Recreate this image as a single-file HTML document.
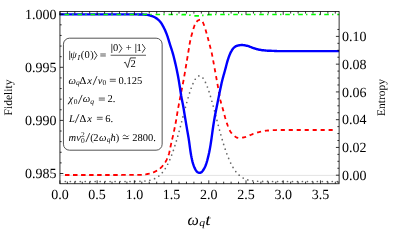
<!DOCTYPE html>
<html><head><meta charset="utf-8"><title>Fidelity and entropy vs time</title><style>
html,body{margin:0;padding:0;background:#fff;}
svg{display:block;font-family:"Liberation Serif",serif;text-rendering:geometricPrecision;will-change:transform;}
</style></head><body>
<svg width="399" height="245" viewBox="0 0 399 245">
<rect width="399" height="245" fill="#fff"/>
<path d="M59.95 175.4 H339.1" stroke="#d0d0d0" stroke-width="0.6" fill="none"/>
<g fill="#666"><circle cx="65.35" cy="181.50" r="0.85"/>
<circle cx="70.33" cy="181.50" r="0.85"/>
<circle cx="75.30" cy="181.50" r="0.85"/>
<circle cx="80.28" cy="181.50" r="0.85"/>
<circle cx="85.25" cy="181.50" r="0.85"/>
<circle cx="90.23" cy="181.50" r="0.85"/>
<circle cx="95.20" cy="181.50" r="0.85"/>
<circle cx="100.18" cy="181.50" r="0.85"/>
<circle cx="105.15" cy="181.50" r="0.85"/>
<circle cx="110.13" cy="181.50" r="0.85"/>
<circle cx="115.10" cy="181.50" r="0.85"/>
<circle cx="120.08" cy="181.50" r="0.85"/>
<circle cx="125.05" cy="181.49" r="0.85"/>
<circle cx="130.03" cy="181.48" r="0.85"/>
<circle cx="135.00" cy="181.44" r="0.85"/>
<circle cx="139.98" cy="181.32" r="0.85"/>
<circle cx="144.94" cy="180.99" r="0.85"/>
<circle cx="149.85" cy="180.23" r="0.85"/>
<circle cx="154.57" cy="178.67" r="0.85"/>
<circle cx="158.80" cy="176.08" r="0.85"/>
<circle cx="162.35" cy="172.60" r="0.85"/>
<circle cx="165.27" cy="168.57" r="0.85"/>
<circle cx="167.71" cy="164.24" r="0.85"/>
<circle cx="169.82" cy="159.72" r="0.85"/>
<circle cx="171.68" cy="155.12" r="0.85"/>
<circle cx="173.37" cy="150.44" r="0.85"/>
<circle cx="174.93" cy="145.70" r="0.85"/>
<circle cx="176.39" cy="140.95" r="0.85"/>
<circle cx="177.77" cy="136.19" r="0.85"/>
<circle cx="179.11" cy="131.36" r="0.85"/>
<circle cx="180.40" cy="126.57" r="0.85"/>
<circle cx="181.67" cy="121.75" r="0.85"/>
<circle cx="182.92" cy="116.96" r="0.85"/>
<circle cx="184.18" cy="112.14" r="0.85"/>
<circle cx="185.45" cy="107.34" r="0.85"/>
<circle cx="186.76" cy="102.52" r="0.85"/>
<circle cx="188.12" cy="97.74" r="0.85"/>
<circle cx="189.57" cy="92.97" r="0.85"/>
<circle cx="191.15" cy="88.26" r="0.85"/>
<circle cx="192.96" cy="83.65" r="0.85"/>
<circle cx="195.24" cy="79.23" r="0.85"/>
<circle cx="198.82" cy="75.94" r="0.85"/>
<circle cx="202.98" cy="78.12" r="0.85"/>
<circle cx="205.48" cy="82.41" r="0.85"/>
<circle cx="207.39" cy="87.01" r="0.85"/>
<circle cx="209.02" cy="91.69" r="0.85"/>
<circle cx="210.50" cy="96.45" r="0.85"/>
<circle cx="211.88" cy="101.23" r="0.85"/>
<circle cx="213.20" cy="106.04" r="0.85"/>
<circle cx="214.48" cy="110.84" r="0.85"/>
<circle cx="215.74" cy="115.66" r="0.85"/>
<circle cx="216.99" cy="120.45" r="0.85"/>
<circle cx="218.26" cy="125.29" r="0.85"/>
<circle cx="219.54" cy="130.07" r="0.85"/>
<circle cx="220.86" cy="134.87" r="0.85"/>
<circle cx="222.23" cy="139.66" r="0.85"/>
<circle cx="223.67" cy="144.43" r="0.85"/>
<circle cx="225.20" cy="149.17" r="0.85"/>
<circle cx="226.84" cy="153.84" r="0.85"/>
<circle cx="228.65" cy="158.47" r="0.85"/>
<circle cx="230.69" cy="163.03" r="0.85"/>
<circle cx="233.02" cy="167.41" r="0.85"/>
<circle cx="235.79" cy="171.54" r="0.85"/>
<circle cx="239.15" cy="175.19" r="0.85"/>
<circle cx="243.20" cy="178.06" r="0.85"/>
<circle cx="247.82" cy="179.89" r="0.85"/>
<circle cx="252.70" cy="180.84" r="0.85"/>
<circle cx="257.65" cy="181.25" r="0.85"/>
<circle cx="262.63" cy="181.42" r="0.85"/>
<circle cx="267.60" cy="181.47" r="0.85"/>
<circle cx="272.58" cy="181.49" r="0.85"/>
<circle cx="277.55" cy="181.50" r="0.85"/>
<circle cx="282.53" cy="181.50" r="0.85"/>
<circle cx="287.50" cy="181.50" r="0.85"/>
<circle cx="292.48" cy="181.50" r="0.85"/>
<circle cx="297.45" cy="181.50" r="0.85"/>
<circle cx="302.43" cy="181.50" r="0.85"/>
<circle cx="307.40" cy="181.50" r="0.85"/>
<circle cx="312.38" cy="181.50" r="0.85"/>
<circle cx="317.35" cy="181.50" r="0.85"/>
<circle cx="322.33" cy="181.50" r="0.85"/>
<circle cx="327.30" cy="181.50" r="0.85"/>
<circle cx="332.28" cy="181.50" r="0.85"/>
<circle cx="337.25" cy="181.50" r="0.85"/></g>
<path d="M65.0 175.0 L65.5 175.0 L66.0 175.0 L66.5 175.0 L67.0 175.0 L67.5 175.0 L68.0 175.0 L68.5 175.0 L69.0 175.0 L69.5 175.0 L70.0 175.0 L70.5 175.0 L71.0 175.0 L71.5 175.0 L72.0 175.0 L72.5 175.0 L73.0 175.0 L73.5 175.0 L74.0 175.0 L74.5 175.0 L75.0 175.0 L75.5 175.0 L76.0 175.0 L76.5 175.0 L77.0 175.0 L77.5 175.0 L78.0 175.0 L78.5 175.0 L79.0 175.0 L79.5 175.0 L80.0 175.0 L80.5 175.0 L81.0 175.0 L81.5 175.0 L82.0 175.0 L82.5 175.0 L83.0 175.0 L83.5 175.0 L84.0 175.0 L84.5 175.0 L85.0 175.0 L85.5 175.0 L86.0 175.0 L86.5 175.0 L87.0 175.0 L87.5 175.0 L88.0 175.0 L88.5 175.0 L89.0 175.0 L89.5 175.0 L90.0 175.0 L90.5 175.0 L91.0 175.0 L91.5 175.0 L92.0 175.0 L92.5 175.0 L93.0 175.0 L93.5 175.0 L94.0 175.0 L94.5 175.0 L95.0 175.0 L95.5 175.0 L96.0 175.0 L96.5 175.0 L97.0 175.0 L97.5 175.0 L98.0 175.0 L98.5 175.0 L99.0 175.0 L99.5 175.0 L100.0 175.0 L100.5 175.0 L101.0 175.0 L101.5 175.0 L102.0 175.0 L102.5 175.0 L103.0 175.0 L103.5 175.0 L104.0 175.0 L104.5 175.0 L105.0 175.0 L105.5 175.0 L106.0 175.0 L106.5 175.0 L107.0 175.0 L107.5 175.0 L108.0 175.0 L108.5 175.0 L109.0 175.0 L109.5 175.0 L110.0 175.0 L110.5 175.0 L111.0 175.0 L111.5 175.0 L112.0 175.0 L112.5 175.0 L113.0 175.0 L113.5 175.0 L114.0 175.0 L114.5 175.0 L115.0 175.0 L115.5 175.0 L116.0 175.0 L116.5 175.0 L117.0 175.0 L117.5 175.0 L118.0 175.0 L118.5 175.0 L119.0 175.0 L119.5 175.0 L120.0 175.0 L120.5 175.0 L121.0 175.0 L121.5 175.0 L122.0 174.9 L122.5 174.9 L123.0 174.9 L123.5 174.9 L124.0 174.9 L124.5 174.9 L125.0 174.9 L125.5 174.9 L126.0 174.9 L126.5 174.9 L127.0 174.9 L127.5 174.9 L128.0 174.9 L128.5 174.9 L129.0 174.9 L129.5 174.9 L130.0 174.9 L130.5 174.9 L131.0 174.9 L131.5 174.9 L132.0 174.9 L132.5 174.9 L133.0 174.9 L133.5 174.9 L134.0 174.9 L134.5 174.9 L135.0 174.9 L135.5 174.9 L136.0 174.9 L136.5 174.9 L137.0 174.9 L137.5 174.9 L138.0 174.9 L138.5 174.9 L139.0 174.9 L139.5 174.9 L140.0 174.9 L140.5 174.9 L141.0 174.9 L141.5 174.8 L142.0 174.8 L142.5 174.8 L143.0 174.7 L143.5 174.7 L144.0 174.6 L144.5 174.5 L145.0 174.4 L145.5 174.4 L146.0 174.3 L146.5 174.2 L147.0 174.1 L147.5 174.0 L148.0 173.9 L148.5 173.8 L149.0 173.7 L149.5 173.6 L150.0 173.5 L150.5 173.3 L151.0 173.2 L151.5 173.0 L152.0 172.9 L152.5 172.7 L153.0 172.5 L153.5 172.3 L154.0 172.1 L154.5 171.9 L155.0 171.6 L155.5 171.4 L156.0 171.1 L156.5 170.9 L157.0 170.6 L157.5 170.3 L158.0 170.0 L158.5 169.7 L159.0 169.3 L159.5 169.0 L160.0 168.5 L160.5 168.1 L161.0 167.6 L161.5 167.1 L162.0 166.6 L162.5 166.0 L163.0 165.4 L163.5 164.8 L164.0 164.1 L164.5 163.4 L165.0 162.7 L165.5 161.9 L166.0 161.0 L166.5 160.1 L167.0 159.0 L167.5 157.9 L168.0 156.6 L168.5 155.3 L169.0 153.7 L169.5 151.6 L170.0 149.3 L170.5 146.8 L171.0 144.4 L171.5 142.1 L172.0 140.0 L172.5 137.9 L173.0 135.7 L173.5 133.5 L174.0 131.1 L174.5 128.7 L175.0 126.2 L175.5 123.7 L176.0 121.0 L176.5 118.1 L177.0 115.0 L177.5 111.9 L178.0 109.0 L178.5 106.3 L179.0 103.6 L179.5 101.1 L180.0 98.5 L180.5 95.9 L181.0 93.4 L181.5 90.9 L182.0 88.4 L182.5 85.8 L183.0 83.2 L183.5 80.5 L184.0 77.8 L184.5 74.9 L185.0 71.9 L185.5 69.0 L186.0 66.0 L186.5 63.0 L187.0 60.0 L187.5 57.0 L188.0 54.0 L188.5 51.0 L189.0 47.9 L189.5 44.7 L190.0 42.0 L190.5 39.7 L191.0 37.5 L191.5 35.6 L192.0 33.7 L192.5 32.0 L193.0 30.3 L193.5 28.6 L194.0 27.0 L194.5 25.5 L195.0 24.2 L195.5 23.2 L196.0 22.4 L196.5 21.8 L197.0 21.3 L197.5 20.8 L198.0 20.5 L198.5 20.2 L199.0 20.0 L199.5 19.8 L200.0 19.7" stroke="#ff0000" stroke-width="1.8" stroke-dasharray="4.5 3.535" fill="none"/>
<path d="M332.7 130.0 L332.2 130.0 L331.7 130.0 L331.2 130.0 L330.7 130.0 L330.2 130.0 L329.7 130.0 L329.2 130.0 L328.7 130.0 L328.2 130.0 L327.7 130.0 L327.2 130.0 L326.7 130.0 L326.2 130.0 L325.7 130.0 L325.2 130.0 L324.7 130.0 L324.2 130.0 L323.7 130.0 L323.2 130.0 L322.7 130.0 L322.2 130.0 L321.7 130.0 L321.2 130.0 L320.7 130.0 L320.2 130.0 L319.7 130.0 L319.2 130.0 L318.7 130.0 L318.2 130.0 L317.7 130.0 L317.2 130.0 L316.7 130.0 L316.2 130.0 L315.7 130.0 L315.2 130.0 L314.7 130.0 L314.2 130.0 L313.7 130.0 L313.2 130.0 L312.7 130.0 L312.2 130.0 L311.7 130.0 L311.2 130.0 L310.7 130.0 L310.2 130.0 L309.7 130.0 L309.2 130.0 L308.7 130.0 L308.2 130.0 L307.7 130.0 L307.2 130.0 L306.7 130.0 L306.2 130.0 L305.7 130.0 L305.2 130.0 L304.7 130.0 L304.2 130.0 L303.7 130.0 L303.2 130.0 L302.7 130.0 L302.2 130.0 L301.7 130.0 L301.2 130.0 L300.7 130.0 L300.2 130.0 L299.7 130.0 L299.2 130.0 L298.7 130.0 L298.2 130.0 L297.7 130.0 L297.2 130.0 L296.7 130.0 L296.2 130.0 L295.7 130.0 L295.2 130.0 L294.7 130.0 L294.2 130.0 L293.7 130.0 L293.2 130.0 L292.7 130.0 L292.2 130.0 L291.7 130.0 L291.2 130.0 L290.7 130.0 L290.2 130.0 L289.7 130.0 L289.2 130.0 L288.7 130.0 L288.2 130.0 L287.7 130.0 L287.2 130.0 L286.7 130.0 L286.2 130.0 L285.7 130.0 L285.2 130.0 L284.7 130.0 L284.2 130.0 L283.7 130.0 L283.2 130.0 L282.7 130.0 L282.2 130.0 L281.7 130.0 L281.2 130.0 L280.7 130.0 L280.2 130.0 L279.7 130.0 L279.2 130.0 L278.7 130.0 L278.2 130.0 L277.7 130.0 L277.2 130.0 L276.7 130.0 L276.2 130.1 L275.7 130.1 L275.2 130.1 L274.7 130.1 L274.2 130.1 L273.7 130.2 L273.2 130.2 L272.7 130.2 L272.2 130.2 L271.7 130.3 L271.2 130.3 L270.7 130.3 L270.2 130.4 L269.7 130.4 L269.2 130.4 L268.7 130.5 L268.2 130.5 L267.7 130.5 L267.2 130.6 L266.7 130.6 L266.2 130.7 L265.7 130.7 L265.2 130.8 L264.7 130.9 L264.2 131.0 L263.7 131.1 L263.2 131.2 L262.7 131.3 L262.2 131.4 L261.7 131.5 L261.2 131.6 L260.7 131.7 L260.2 131.8 L259.7 131.9 L259.2 132.0 L258.7 132.2 L258.2 132.3 L257.7 132.4 L257.2 132.6 L256.7 132.8 L256.2 132.9 L255.7 133.1 L255.2 133.2 L254.7 133.4 L254.2 133.6 L253.7 133.8 L253.2 133.9 L252.7 134.1 L252.2 134.3 L251.7 134.5 L251.2 134.7 L250.7 135.0 L250.2 135.2 L249.7 135.4 L249.2 135.7 L248.7 135.9 L248.2 136.1 L247.7 136.3 L247.2 136.5 L246.7 136.7 L246.2 136.8 L245.7 137.0 L245.2 137.1 L244.7 137.2 L244.2 137.3 L243.7 137.4 L243.2 137.5 L242.7 137.6 L242.2 137.7 L241.7 137.8 L241.2 137.9 L240.7 137.9 L240.2 138.0 L239.7 138.0 L239.2 138.0 L238.7 138.0 L238.2 137.9 L237.7 137.8 L237.2 137.7 L236.7 137.6 L236.2 137.3 L235.7 137.0 L235.2 136.6 L234.7 136.3 L234.2 135.9 L233.7 135.5 L233.2 135.1 L232.7 134.6 L232.2 134.0 L231.7 133.4 L231.2 132.7 L230.7 132.0 L230.2 131.2 L229.7 130.3 L229.2 129.2 L228.7 128.1 L228.2 126.8 L227.7 125.5 L227.2 124.1 L226.7 122.7 L226.2 121.1 L225.7 119.5 L225.2 117.8 L224.7 115.9 L224.2 114.0 L223.7 112.1 L223.2 110.2 L222.7 108.4 L222.2 106.8 L221.7 105.1 L221.2 103.4 L220.7 101.6 L220.2 99.5 L219.7 96.8 L219.2 93.6 L218.7 90.7 L218.2 88.0 L217.7 85.3 L217.2 82.5 L216.7 79.8 L216.2 77.0 L215.7 74.3 L215.2 71.5 L214.7 68.8 L214.2 66.1 L213.7 63.4 L213.2 60.7 L212.7 57.9 L212.2 55.3 L211.7 52.9 L211.2 50.7 L210.7 48.8 L210.2 46.9 L209.7 45.0 L209.2 43.1 L208.7 41.1 L208.2 39.2 L207.7 37.3 L207.2 35.4 L206.7 33.7 L206.2 31.9 L205.7 30.2 L205.2 28.6 L204.7 27.0 L204.2 25.6 L203.7 24.2 L203.2 23.0 L202.7 21.8 L202.2 21.1 L201.7 20.5 L201.2 20.1 L200.7 19.8" stroke="#ff0000" stroke-width="1.8" stroke-dasharray="4.1 3.876" fill="none"/>
<path d="M59.6 14.4 L60.1 14.4 L60.6 14.4 L61.1 14.4 L61.6 14.4 L62.1 14.4 L62.6 14.4 L63.1 14.4 L63.6 14.4 L64.1 14.4 L64.6 14.4 L65.1 14.4 L65.6 14.4 L66.1 14.4 L66.6 14.4 L67.1 14.4 L67.6 14.4 L68.1 14.4 L68.6 14.4 L69.1 14.4 L69.6 14.4 L70.1 14.4 L70.6 14.4 L71.1 14.4 L71.6 14.4 L72.1 14.4 L72.6 14.4 L73.1 14.4 L73.6 14.4 L74.1 14.4 L74.6 14.4 L75.1 14.4 L75.6 14.4 L76.1 14.4 L76.6 14.4 L77.1 14.4 L77.6 14.4 L78.1 14.4 L78.6 14.4 L79.1 14.4 L79.6 14.4 L80.1 14.4 L80.6 14.4 L81.1 14.4 L81.6 14.4 L82.1 14.4 L82.6 14.4 L83.1 14.4 L83.6 14.4 L84.1 14.4 L84.6 14.4 L85.1 14.4 L85.6 14.4 L86.1 14.4 L86.6 14.4 L87.1 14.4 L87.6 14.4 L88.1 14.4 L88.6 14.4 L89.1 14.4 L89.6 14.4 L90.1 14.4 L90.6 14.4 L91.1 14.4 L91.6 14.4 L92.1 14.4 L92.6 14.4 L93.1 14.4 L93.6 14.4 L94.1 14.4 L94.6 14.4 L95.1 14.4 L95.6 14.4 L96.1 14.4 L96.6 14.4 L97.1 14.4 L97.6 14.4 L98.1 14.4 L98.6 14.4 L99.1 14.4 L99.6 14.4 L100.1 14.4 L100.6 14.4 L101.1 14.4 L101.6 14.4 L102.1 14.4 L102.6 14.4 L103.1 14.4 L103.6 14.4 L104.1 14.4 L104.6 14.4 L105.1 14.4 L105.6 14.4 L106.1 14.4 L106.6 14.4 L107.1 14.4 L107.6 14.4 L108.1 14.4 L108.6 14.4 L109.1 14.4 L109.6 14.4 L110.1 14.4 L110.6 14.4 L111.1 14.4 L111.6 14.4 L112.1 14.4 L112.6 14.4 L113.1 14.4 L113.6 14.4 L114.1 14.4 L114.6 14.4 L115.1 14.4 L115.6 14.4 L116.1 14.4 L116.6 14.4 L117.1 14.4 L117.6 14.4 L118.1 14.4 L118.6 14.4 L119.1 14.4 L119.6 14.4 L120.1 14.4 L120.6 14.4 L121.1 14.4 L121.6 14.4 L122.1 14.4 L122.6 14.4 L123.1 14.4 L123.6 14.4 L124.1 14.4 L124.6 14.4 L125.1 14.4 L125.6 14.4 L126.1 14.4 L126.6 14.4 L127.1 14.4 L127.6 14.4 L128.1 14.4 L128.6 14.4 L129.1 14.4 L129.6 14.4 L130.1 14.4 L130.6 14.4 L131.1 14.4 L131.6 14.4 L132.1 14.4 L132.6 14.4 L133.1 14.4 L133.6 14.4 L134.1 14.4 L134.6 14.4 L135.1 14.4 L135.6 14.4 L136.1 14.4 L136.6 14.4 L137.1 14.4 L137.6 14.4 L138.1 14.4 L138.6 14.5 L139.1 14.5 L139.6 14.5 L140.1 14.5 L140.6 14.5 L141.1 14.5 L141.6 14.5 L142.1 14.5 L142.6 14.5 L143.1 14.5 L143.6 14.6 L144.1 14.6 L144.6 14.6 L145.1 14.7 L145.6 14.7 L146.1 14.7 L146.6 14.8 L147.1 14.9 L147.6 14.9 L148.1 15.0 L148.6 15.1 L149.1 15.2 L149.6 15.4 L150.1 15.5 L150.6 15.7 L151.1 15.8 L151.6 16.0 L152.1 16.2 L152.6 16.3 L153.1 16.5 L153.6 16.7 L154.1 17.0 L154.6 17.2 L155.1 17.5 L155.6 17.8 L156.1 18.1 L156.6 18.4 L157.1 18.8 L157.6 19.2 L158.1 19.6 L158.6 20.0 L159.1 20.5 L159.6 21.1 L160.1 21.6 L160.6 22.2 L161.1 22.9 L161.6 23.7 L162.1 24.5 L162.6 25.4 L163.1 26.3 L163.6 27.2 L164.1 28.2 L164.6 29.2 L165.1 30.3 L165.6 31.5 L166.1 32.7 L166.6 33.9 L167.1 35.3 L167.6 36.7 L168.1 38.3 L168.6 39.9 L169.1 41.6 L169.6 43.2 L170.1 44.8 L170.6 46.4 L171.1 47.9 L171.6 49.4 L172.1 51.0 L172.6 52.6 L173.1 54.4 L173.6 56.2 L174.1 58.2 L174.6 60.3 L175.1 62.4 L175.6 64.6 L176.1 66.8 L176.6 69.1 L177.1 71.5 L177.6 73.9 L178.1 76.5 L178.6 79.4 L179.1 82.4 L179.6 85.5 L180.1 88.6 L180.6 92.0 L181.1 95.3 L181.6 98.1 L182.1 100.6 L182.6 102.9 L183.1 105.5 L183.6 108.4 L184.1 111.5 L184.6 114.6 L185.1 117.6 L185.6 120.6 L186.1 123.6 L186.6 126.6 L187.1 129.6 L187.6 132.4 L188.1 135.2 L188.6 138.1 L189.1 141.4 L189.6 145.2 L190.1 148.9 L190.6 152.2 L191.1 155.2 L191.6 157.8 L192.1 160.1 L192.6 162.1 L193.1 163.9 L193.6 165.4 L194.1 166.7 L194.6 167.9 L195.1 168.9 L195.6 169.8 L196.1 170.6 L196.6 171.3 L197.1 171.8 L197.6 172.2 L198.1 172.5 L198.6 172.7 L199.1 172.9 L199.6 172.9 L200.1 172.8 L200.6 172.6 L201.1 172.4 L201.6 172.1 L202.1 171.6 L202.6 171.0 L203.1 170.3 L203.6 169.5 L204.1 168.7 L204.6 167.7 L205.1 166.7 L205.6 165.5 L206.1 164.2 L206.6 162.7 L207.1 161.0 L207.6 159.1 L208.1 157.1 L208.6 155.0 L209.1 152.8 L209.6 150.3 L210.1 147.6 L210.6 144.6 L211.1 141.3 L211.6 137.9 L212.1 134.2 L212.6 130.5 L213.1 127.0 L213.6 123.8 L214.1 120.7 L214.6 117.8 L215.1 115.0 L215.6 112.4 L216.1 109.9 L216.6 107.5 L217.1 105.0 L217.6 102.5 L218.1 100.0 L218.6 97.5 L219.1 95.0 L219.6 92.6 L220.1 90.1 L220.6 87.7 L221.1 85.4 L221.6 83.1 L222.1 81.0 L222.6 79.0 L223.1 77.1 L223.6 75.3 L224.1 73.6 L224.6 71.8 L225.1 70.0 L225.6 68.1 L226.1 66.2 L226.6 64.2 L227.1 62.4 L227.6 60.7 L228.1 59.1 L228.6 57.6 L229.1 56.2 L229.6 54.9 L230.1 53.7 L230.6 52.6 L231.1 51.6 L231.6 50.8 L232.1 49.9 L232.6 49.2 L233.1 48.5 L233.6 48.0 L234.1 47.5 L234.6 47.1 L235.1 46.7 L235.6 46.4 L236.1 46.1 L236.6 45.9 L237.1 45.8 L237.6 45.6 L238.1 45.5 L238.6 45.4 L239.1 45.3 L239.6 45.2 L240.1 45.1 L240.6 45.1 L241.1 45.0 L241.6 45.0 L242.1 45.0 L242.6 45.0 L243.1 45.1 L243.6 45.1 L244.1 45.2 L244.6 45.3 L245.1 45.4 L245.6 45.5 L246.1 45.6 L246.6 45.7 L247.1 45.8 L247.6 45.9 L248.1 46.0 L248.6 46.2 L249.1 46.4 L249.6 46.6 L250.1 46.8 L250.6 47.0 L251.1 47.2 L251.6 47.4 L252.1 47.6 L252.6 47.8 L253.1 48.0 L253.6 48.1 L254.1 48.3 L254.6 48.4 L255.1 48.6 L255.6 48.8 L256.1 48.9 L256.6 49.1 L257.1 49.2 L257.6 49.3 L258.1 49.4 L258.6 49.6 L259.1 49.7 L259.6 49.8 L260.1 49.8 L260.6 49.9 L261.1 50.0 L261.6 50.1 L262.1 50.2 L262.6 50.2 L263.1 50.3 L263.6 50.3 L264.1 50.4 L264.6 50.4 L265.1 50.5 L265.6 50.5 L266.1 50.6 L266.6 50.6 L267.1 50.6 L267.6 50.7 L268.1 50.7 L268.6 50.7 L269.1 50.7 L269.6 50.8 L270.1 50.8 L270.6 50.8 L271.1 50.8 L271.6 50.9 L272.1 50.9 L272.6 50.9 L273.1 50.9 L273.6 50.9 L274.1 50.9 L274.6 51.0 L275.1 51.0 L275.6 51.0 L276.1 51.0 L276.6 51.0 L277.1 51.1 L277.6 51.1 L278.1 51.1 L278.6 51.1 L279.1 51.1 L279.6 51.1 L280.1 51.1 L280.6 51.1 L281.1 51.1 L281.6 51.1 L282.1 51.1 L282.6 51.1 L283.1 51.1 L283.6 51.1 L284.1 51.1 L284.6 51.1 L285.1 51.1 L285.6 51.1 L286.1 51.1 L286.6 51.1 L287.1 51.1 L287.6 51.1 L288.1 51.1 L288.6 51.1 L289.1 51.1 L289.6 51.1 L290.1 51.1 L290.6 51.1 L291.1 51.1 L291.6 51.1 L292.1 51.1 L292.6 51.1 L293.1 51.1 L293.6 51.1 L294.1 51.1 L294.6 51.1 L295.1 51.1 L295.6 51.1 L296.1 51.1 L296.6 51.1 L297.1 51.1 L297.6 51.1 L298.1 51.1 L298.6 51.1 L299.1 51.1 L299.6 51.1 L300.1 51.1 L300.6 51.1 L301.1 51.1 L301.6 51.1 L302.1 51.1 L302.6 51.1 L303.1 51.1 L303.6 51.1 L304.1 51.1 L304.6 51.1 L305.1 51.1 L305.6 51.1 L306.1 51.1 L306.6 51.1 L307.1 51.1 L307.6 51.1 L308.1 51.1 L308.6 51.1 L309.1 51.1 L309.6 51.1 L310.1 51.1 L310.6 51.1 L311.1 51.1 L311.6 51.1 L312.1 51.1 L312.6 51.1 L313.1 51.1 L313.6 51.1 L314.1 51.1 L314.6 51.1 L315.1 51.1 L315.6 51.1 L316.1 51.1 L316.6 51.1 L317.1 51.1 L317.6 51.1 L318.1 51.1 L318.6 51.1 L319.1 51.1 L319.6 51.1 L320.1 51.1 L320.6 51.1 L321.1 51.1 L321.6 51.1 L322.1 51.1 L322.6 51.1 L323.1 51.1 L323.6 51.1 L324.1 51.1 L324.6 51.1 L325.1 51.1 L325.6 51.1 L326.1 51.1 L326.6 51.1 L327.1 51.1 L327.6 51.1 L328.1 51.1 L328.6 51.1 L329.1 51.1 L329.6 51.1 L330.1 51.1 L330.6 51.1 L331.1 51.1 L331.6 51.1 L332.1 51.1 L332.6 51.1 L333.1 51.1 L333.6 51.1 L334.1 51.1 L334.6 51.1 L335.1 51.1 L335.6 51.1 L336.1 51.1 L336.6 51.1 L337.1 51.1 L337.6 51.1 L338.1 51.1 L338.6 51.1 L339.1 51.1" stroke="#0000ff" stroke-width="2.4" fill="none" stroke-linejoin="round"/>
<path d="M59.7 14.5 L60.2 14.5 L60.7 14.5 L61.2 14.5 L61.7 14.5 L62.2 14.5 L62.7 14.5 L63.2 14.5 L63.7 14.5 L64.2 14.5 L64.7 14.5 L65.2 14.5 L65.7 14.5 L66.2 14.5 L66.7 14.5 L67.2 14.5 L67.7 14.5 L68.2 14.5 L68.7 14.5 L69.2 14.5 L69.7 14.5 L70.2 14.5 L70.7 14.5 L71.2 14.5 L71.7 14.5 L72.2 14.5 L72.7 14.5 L73.2 14.5 L73.7 14.5 L74.2 14.5 L74.7 14.5 L75.2 14.5 L75.7 14.5 L76.2 14.5 L76.7 14.5 L77.2 14.5 L77.7 14.5 L78.2 14.5 L78.7 14.5 L79.2 14.5 L79.7 14.5 L80.2 14.5 L80.7 14.5 L81.2 14.5 L81.7 14.5 L82.2 14.5 L82.7 14.5 L83.2 14.5 L83.7 14.5 L84.2 14.5 L84.7 14.5 L85.2 14.5 L85.7 14.5 L86.2 14.5 L86.7 14.5 L87.2 14.5 L87.7 14.5 L88.2 14.5 L88.7 14.5 L89.2 14.5 L89.7 14.5 L90.2 14.5 L90.7 14.5 L91.2 14.5 L91.7 14.5 L92.2 14.5 L92.7 14.5 L93.2 14.5 L93.7 14.5 L94.2 14.5 L94.7 14.5 L95.2 14.5 L95.7 14.5 L96.2 14.5 L96.7 14.5 L97.2 14.5 L97.7 14.5 L98.2 14.5 L98.7 14.5 L99.2 14.5 L99.7 14.5 L100.2 14.5 L100.7 14.5 L101.2 14.5 L101.7 14.5 L102.2 14.5 L102.7 14.5 L103.2 14.5 L103.7 14.5 L104.2 14.5 L104.7 14.5 L105.2 14.5 L105.7 14.5 L106.2 14.5 L106.7 14.5 L107.2 14.5 L107.7 14.5 L108.2 14.5 L108.7 14.5 L109.2 14.5 L109.7 14.5 L110.2 14.5 L110.7 14.5 L111.2 14.5 L111.7 14.5 L112.2 14.5 L112.7 14.5 L113.2 14.5 L113.7 14.5 L114.2 14.5 L114.7 14.5 L115.2 14.5 L115.7 14.5 L116.2 14.5 L116.7 14.5 L117.2 14.5 L117.7 14.5 L118.2 14.5 L118.7 14.5 L119.2 14.5 L119.7 14.5 L120.2 14.5 L120.7 14.5 L121.2 14.5 L121.7 14.5 L122.2 14.5 L122.7 14.5 L123.2 14.5 L123.7 14.5 L124.2 14.5 L124.7 14.5 L125.2 14.5 L125.7 14.5 L126.2 14.5 L126.7 14.5 L127.2 14.5 L127.7 14.5 L128.2 14.5 L128.7 14.5 L129.2 14.5 L129.7 14.5 L130.2 14.5 L130.7 14.5 L131.2 14.5 L131.7 14.5 L132.2 14.5 L132.7 14.5 L133.2 14.5 L133.7 14.5 L134.2 14.5 L134.7 14.5 L135.2 14.5 L135.7 14.5 L136.2 14.5 L136.7 14.5 L137.2 14.5 L137.7 14.5 L138.2 14.5 L138.7 14.5 L139.2 14.5 L139.7 14.5 L140.2 14.5 L140.7 14.5 L141.2 14.5 L141.7 14.5 L142.2 14.5 L142.7 14.5 L143.2 14.5 L143.7 14.5 L144.2 14.5 L144.7 14.5 L145.2 14.5 L145.7 14.5 L146.2 14.5 L146.7 14.5 L147.2 14.5 L147.7 14.5 L148.2 14.5 L148.7 14.5 L149.2 14.5 L149.7 14.5 L150.2 14.5 L150.7 14.5 L151.2 14.5 L151.7 14.5 L152.2 14.5 L152.7 14.5 L153.2 14.5 L153.7 14.5 L154.2 14.5 L154.7 14.5 L155.2 14.5 L155.7 14.5 L156.2 14.5 L156.7 14.5 L157.2 14.5 L157.7 14.5 L158.2 14.5 L158.7 14.5 L159.2 14.5 L159.7 14.5 L160.2 14.5 L160.7 14.5 L161.2 14.5 L161.7 14.5 L162.2 14.5 L162.7 14.5 L163.2 14.5 L163.7 14.5 L164.2 14.5 L164.7 14.5 L165.2 14.5 L165.7 14.5 L166.2 14.5 L166.7 14.5 L167.2 14.5 L167.7 14.5 L168.2 14.5 L168.7 14.5 L169.2 14.5 L169.7 14.5 L170.2 14.5 L170.7 14.5 L171.2 14.5 L171.7 14.5 L172.2 14.5 L172.7 14.5 L173.2 14.5 L173.7 14.5 L174.2 14.5 L174.7 14.5 L175.2 14.5 L175.7 14.5 L176.2 14.5 L176.7 14.5 L177.2 14.5 L177.7 14.5 L178.2 14.5 L178.7 14.5 L179.2 14.5 L179.7 14.5 L180.2 14.5 L180.7 14.5 L181.2 14.5 L181.7 14.6 L182.2 14.6 L182.7 14.6 L183.2 14.6 L183.7 14.6 L184.2 14.6 L184.7 14.7 L185.2 14.7 L185.7 14.7 L186.2 14.8 L186.7 14.8 L187.2 14.9 L187.7 14.9 L188.2 15.0 L188.7 15.0 L189.2 15.1 L189.7 15.2 L190.2 15.2 L190.7 15.3 L191.2 15.4 L191.7 15.4 L192.2 15.5 L192.7 15.6 L193.2 15.6 L193.7 15.7 L194.2 15.8 L194.7 15.8 L195.2 15.8 L195.7 15.9 L196.2 15.9 L196.7 15.9 L197.2 15.9 L197.7 15.9 L198.2 15.9 L198.7 15.8 L199.2 15.8 L199.7 15.8 L200.2 15.7 L200.7 15.7 L201.2 15.6 L201.7 15.5 L202.2 15.5 L202.7 15.4 L203.2 15.3 L203.7 15.3 L204.2 15.2 L204.7 15.1 L205.2 15.1 L205.7 15.0 L206.2 14.9 L206.7 14.9 L207.2 14.8 L207.7 14.8 L208.2 14.7 L208.7 14.7 L209.2 14.7 L209.7 14.6 L210.2 14.6 L210.7 14.6 L211.2 14.6 L211.7 14.6 L212.2 14.6 L212.7 14.5 L213.2 14.5 L213.7 14.5 L214.2 14.5 L214.7 14.5 L215.2 14.5 L215.7 14.5 L216.2 14.5 L216.7 14.5 L217.2 14.5 L217.7 14.5 L218.2 14.5 L218.7 14.5 L219.2 14.5 L219.7 14.5 L220.2 14.5 L220.7 14.5 L221.2 14.5 L221.7 14.5 L222.2 14.5 L222.7 14.5 L223.2 14.5 L223.7 14.5 L224.2 14.5 L224.7 14.5 L225.2 14.5 L225.7 14.5 L226.2 14.5 L226.7 14.5 L227.2 14.5 L227.7 14.5 L228.2 14.5 L228.7 14.5 L229.2 14.5 L229.7 14.5 L230.2 14.5 L230.7 14.5 L231.2 14.5 L231.7 14.5 L232.2 14.5 L232.7 14.5 L233.2 14.5 L233.7 14.5 L234.2 14.5 L234.7 14.5 L235.2 14.5 L235.7 14.5 L236.2 14.5 L236.7 14.5 L237.2 14.5 L237.7 14.5 L238.2 14.5 L238.7 14.5 L239.2 14.5 L239.7 14.5 L240.2 14.5 L240.7 14.5 L241.2 14.5 L241.7 14.5 L242.2 14.5 L242.7 14.5 L243.2 14.5 L243.7 14.5 L244.2 14.5 L244.7 14.5 L245.2 14.5 L245.7 14.5 L246.2 14.5 L246.7 14.5 L247.2 14.5 L247.7 14.5 L248.2 14.5 L248.7 14.5 L249.2 14.5 L249.7 14.5 L250.2 14.5 L250.7 14.5 L251.2 14.5 L251.7 14.5 L252.2 14.5 L252.7 14.5 L253.2 14.5 L253.7 14.5 L254.2 14.5 L254.7 14.5 L255.2 14.5 L255.7 14.5 L256.2 14.5 L256.7 14.5 L257.2 14.5 L257.7 14.5 L258.2 14.5 L258.7 14.5 L259.2 14.5 L259.7 14.5 L260.2 14.5 L260.7 14.5 L261.2 14.5 L261.7 14.5 L262.2 14.5 L262.7 14.5 L263.2 14.5 L263.7 14.5 L264.2 14.5 L264.7 14.5 L265.2 14.5 L265.7 14.5 L266.2 14.5 L266.7 14.5 L267.2 14.5 L267.7 14.5 L268.2 14.5 L268.7 14.5 L269.2 14.5 L269.7 14.5 L270.2 14.5 L270.7 14.5 L271.2 14.5 L271.7 14.5 L272.2 14.5 L272.7 14.5 L273.2 14.5 L273.7 14.5 L274.2 14.5 L274.7 14.5 L275.2 14.5 L275.7 14.5 L276.2 14.5 L276.7 14.5 L277.2 14.5 L277.7 14.5 L278.2 14.5 L278.7 14.5 L279.2 14.5 L279.7 14.5 L280.2 14.5 L280.7 14.5 L281.2 14.5 L281.7 14.5 L282.2 14.5 L282.7 14.5 L283.2 14.5 L283.7 14.5 L284.2 14.5 L284.7 14.5 L285.2 14.5 L285.7 14.5 L286.2 14.5 L286.7 14.5 L287.2 14.5 L287.7 14.5 L288.2 14.5 L288.7 14.5 L289.2 14.5 L289.7 14.5 L290.2 14.5 L290.7 14.5 L291.2 14.5 L291.7 14.5 L292.2 14.5 L292.7 14.5 L293.2 14.5 L293.7 14.5 L294.2 14.5 L294.7 14.5 L295.2 14.5 L295.7 14.5 L296.2 14.5 L296.7 14.5 L297.2 14.5 L297.7 14.5 L298.2 14.5 L298.7 14.5 L299.2 14.5 L299.7 14.5 L300.2 14.5 L300.7 14.5 L301.2 14.5 L301.7 14.5 L302.2 14.5 L302.7 14.5 L303.2 14.5 L303.7 14.5 L304.2 14.5 L304.7 14.5 L305.2 14.5 L305.7 14.5 L306.2 14.5 L306.7 14.5 L307.2 14.5 L307.7 14.5 L308.2 14.5 L308.7 14.5 L309.2 14.5 L309.7 14.5 L310.2 14.5 L310.7 14.5 L311.2 14.5 L311.7 14.5 L312.2 14.5 L312.7 14.5 L313.2 14.5 L313.7 14.5 L314.2 14.5 L314.7 14.5 L315.2 14.5 L315.7 14.5 L316.2 14.5 L316.7 14.5 L317.2 14.5 L317.7 14.5 L318.2 14.5 L318.7 14.5 L319.2 14.5 L319.7 14.5 L320.2 14.5 L320.7 14.5 L321.2 14.5 L321.7 14.5 L322.2 14.5 L322.7 14.5 L323.2 14.5 L323.7 14.5 L324.2 14.5 L324.7 14.5 L325.2 14.5 L325.7 14.5 L326.2 14.5 L326.7 14.5 L327.2 14.5 L327.7 14.5 L328.2 14.5 L328.7 14.5 L329.2 14.5 L329.7 14.5 L330.2 14.5 L330.7 14.5 L331.2 14.5 L331.7 14.5 L332.2 14.5 L332.7 14.5 L333.2 14.5 L333.7 14.5 L334.2 14.5 L334.7 14.5 L335.2 14.5 L335.7 14.5 L336.2 14.5 L336.7 14.5 L337.2 14.5 L337.7 14.5 L338.2 14.5 L338.7 14.5 L339.2 14.5" stroke="#00ff00" stroke-width="1.7" stroke-dasharray="4.6 3.2 1.4 3.8" stroke-dashoffset="8.2" fill="none"/>
<path d="M59.93 183.75 v-3.40 M59.93 11.50 v3.40 M67.37 183.75 v-2.10 M67.37 11.50 v2.10 M74.82 183.75 v-2.10 M74.82 11.50 v2.10 M82.26 183.75 v-2.10 M82.26 11.50 v2.10 M89.70 183.75 v-2.10 M89.70 11.50 v2.10 M97.15 183.75 v-3.40 M97.15 11.50 v3.40 M104.59 183.75 v-2.10 M104.59 11.50 v2.10 M112.03 183.75 v-2.10 M112.03 11.50 v2.10 M119.47 183.75 v-2.10 M119.47 11.50 v2.10 M126.92 183.75 v-2.10 M126.92 11.50 v2.10 M134.36 183.75 v-3.40 M134.36 11.50 v3.40 M141.80 183.75 v-2.10 M141.80 11.50 v2.10 M149.25 183.75 v-2.10 M149.25 11.50 v2.10 M156.69 183.75 v-2.10 M156.69 11.50 v2.10 M164.13 183.75 v-2.10 M164.13 11.50 v2.10 M171.58 183.75 v-3.40 M171.58 11.50 v3.40 M179.02 183.75 v-2.10 M179.02 11.50 v2.10 M186.46 183.75 v-2.10 M186.46 11.50 v2.10 M193.90 183.75 v-2.10 M193.90 11.50 v2.10 M201.35 183.75 v-2.10 M201.35 11.50 v2.10 M208.79 183.75 v-3.40 M208.79 11.50 v3.40 M216.23 183.75 v-2.10 M216.23 11.50 v2.10 M223.68 183.75 v-2.10 M223.68 11.50 v2.10 M231.12 183.75 v-2.10 M231.12 11.50 v2.10 M238.56 183.75 v-2.10 M238.56 11.50 v2.10 M246.01 183.75 v-3.40 M246.01 11.50 v3.40 M253.45 183.75 v-2.10 M253.45 11.50 v2.10 M260.89 183.75 v-2.10 M260.89 11.50 v2.10 M268.33 183.75 v-2.10 M268.33 11.50 v2.10 M275.78 183.75 v-2.10 M275.78 11.50 v2.10 M283.22 183.75 v-3.40 M283.22 11.50 v3.40 M290.66 183.75 v-2.10 M290.66 11.50 v2.10 M298.11 183.75 v-2.10 M298.11 11.50 v2.10 M305.55 183.75 v-2.10 M305.55 11.50 v2.10 M312.99 183.75 v-2.10 M312.99 11.50 v2.10 M320.44 183.75 v-3.40 M320.44 11.50 v3.40 M327.88 183.75 v-2.10 M327.88 11.50 v2.10 M335.32 183.75 v-2.10 M335.32 11.50 v2.10 M59.95 14.20 h3.40 M59.95 24.82 h1.70 M59.95 35.44 h1.70 M59.95 46.06 h1.70 M59.95 56.68 h1.70 M59.95 67.30 h3.40 M59.95 77.92 h1.70 M59.95 88.54 h1.70 M59.95 99.16 h1.70 M59.95 109.78 h1.70 M59.95 120.40 h3.40 M59.95 131.02 h1.70 M59.95 141.64 h1.70 M59.95 152.26 h1.70 M59.95 162.88 h1.70 M59.95 173.50 h3.40 M339.10 182.14 h-1.70 M339.10 175.20 h-3.20 M339.10 168.26 h-1.70 M339.10 161.32 h-1.70 M339.10 154.38 h-1.70 M339.10 147.44 h-3.20 M339.10 140.50 h-1.70 M339.10 133.56 h-1.70 M339.10 126.62 h-1.70 M339.10 119.68 h-3.20 M339.10 112.74 h-1.70 M339.10 105.80 h-1.70 M339.10 98.86 h-1.70 M339.10 91.92 h-3.20 M339.10 84.98 h-1.70 M339.10 78.04 h-1.70 M339.10 71.10 h-1.70 M339.10 64.16 h-3.20 M339.10 57.22 h-1.70 M339.10 50.28 h-1.70 M339.10 43.34 h-1.70 M339.10 36.40 h-3.20 M339.10 29.46 h-1.70" stroke="#000" stroke-width="0.8" fill="none"/>
<rect x="59.95" y="11.5" width="279.15000000000003" height="172.25" fill="none" stroke="#000" stroke-width="0.8"/>
<g font-size="14px" fill="#000">
<text x="59.9" y="199.2" text-anchor="middle">0.0</text>
<text x="97.1" y="199.2" text-anchor="middle">0.5</text>
<text x="134.4" y="199.2" text-anchor="middle">1.0</text>
<text x="171.6" y="199.2" text-anchor="middle">1.5</text>
<text x="208.8" y="199.2" text-anchor="middle">2.0</text>
<text x="246.0" y="199.2" text-anchor="middle">2.5</text>
<text x="283.2" y="199.2" text-anchor="middle">3.0</text>
<text x="320.4" y="199.2" text-anchor="middle">3.5</text>
<text x="56.5" y="18.5" text-anchor="end">1.000</text>
<text x="56.5" y="71.6" text-anchor="end">0.995</text>
<text x="56.5" y="124.7" text-anchor="end">0.990</text>
<text x="56.5" y="177.8" text-anchor="end">0.985</text>
<text x="342" y="179.9">0.00</text>
<text x="342" y="152.1">0.02</text>
<text x="342" y="124.4">0.04</text>
<text x="342" y="96.6">0.06</text>
<text x="342" y="68.9">0.08</text>
<text x="342" y="41.1">0.10</text>
</g>
<text transform="translate(11.8,97.5) rotate(-90)" font-size="11.5px" text-anchor="middle">Fidelity</text>
<text transform="translate(384.6,97.5) rotate(-90)" font-size="11.5px" text-anchor="middle">Entropy</text>
<text x="187.6" y="224.5" font-size="16px" font-style="italic">ω</text>
<text transform="translate(199.2,226.4) scale(1.12,1)" font-size="10.5px" font-style="italic">q</text>
<text transform="translate(205.3,224.5) scale(1.2,1)" font-size="16px" font-style="italic">t</text>
<rect x="63.45" y="38.2" width="98.7" height="112.0" rx="6" ry="6" fill="#fff" stroke="#404040" stroke-width="0.9"/>
<g fill="#000">
<path d="M69.70 50.85 V59.98" stroke="#000" stroke-width="0.7" fill="none"/>
<text x="70.17" y="58.20" font-size="10.50px" font-style="italic">ψ</text>
<text x="77.43" y="60.30" font-size="7.50px" font-style="italic">I</text>
<text x="80.64" y="58.20" font-size="10.50px">(</text>
<text x="84.50" y="58.20" font-size="10.50px">0</text>
<text x="90.26" y="58.20" font-size="10.50px">)</text>
<path d="M94.20 51.06 L97.00 55.42 L94.20 59.78" stroke="#000" stroke-width="0.75" fill="none"/>
<path d="M100.30 54.00 H105.80 M100.30 55.94 H105.80" stroke="#000" stroke-width="0.65" fill="none"/>
<path d="M111.80 43.85 V52.98" stroke="#000" stroke-width="0.7" fill="none"/>
<text x="113.10" y="51.20" font-size="10.50px">0</text>
<path d="M119.00 44.06 L122.00 48.42 L119.00 52.78" stroke="#000" stroke-width="0.75" fill="none"/>
<text x="125.78" y="51.20" font-size="10.50px">+</text>
<path d="M135.80 43.85 V52.98" stroke="#000" stroke-width="0.7" fill="none"/>
<text x="136.38" y="51.20" font-size="10.50px">1</text>
<path d="M142.20 44.06 L145.20 48.42 L142.20 52.78" stroke="#000" stroke-width="0.75" fill="none"/>
<path d="M110.6 55.25 H146" stroke="#000" stroke-width="0.65" fill="none"/>
<path d="M123.9 62.9 L125.3 62.2 L127.6 67.5 L130.4 57.9 H135.9" stroke="#000" stroke-width="0.75" fill="none" stroke-linejoin="miter"/>
<text x="130.44" y="66.60" font-size="10.50px">2</text>
<text x="68.45" y="83.50" font-size="10.50px" font-style="italic">ω</text>
<text x="76.05" y="85.40" font-size="7.50px" font-style="italic">q</text>
<text x="79.50" y="83.50" font-size="10.50px">Δ</text>
<text x="87.13" y="83.50" font-size="10.50px" font-style="italic">x</text>
<path d="M93.10 85.08 L97.00 76.15" stroke="#000" stroke-width="0.75" fill="none"/>
<text x="97.66" y="83.50" font-size="10.50px" font-style="italic">v</text>
<text x="102.41" y="85.40" font-size="7.50px">0</text>
<path d="M109.80 79.30 H115.80 M109.80 81.24 H115.80" stroke="#000" stroke-width="0.65" fill="none"/>
<text x="118.50" y="83.50" font-size="10.50px">0.125</text>
<text x="68.54" y="102.30" font-size="10.50px" font-style="italic">χ</text>
<text x="73.81" y="104.20" font-size="7.50px">0</text>
<path d="M78.30 103.88 L82.20 94.95" stroke="#000" stroke-width="0.75" fill="none"/>
<text x="82.65" y="102.30" font-size="10.50px" font-style="italic">ω</text>
<text x="90.35" y="104.20" font-size="7.50px" font-style="italic">q</text>
<path d="M98.80 98.10 H104.90 M98.80 100.04 H104.90" stroke="#000" stroke-width="0.65" fill="none"/>
<text x="107.54" y="102.30" font-size="10.50px">2.</text>
<text x="68.92" y="121.50" font-size="10.50px" font-style="italic">L</text>
<path d="M75.10 123.08 L79.00 114.15" stroke="#000" stroke-width="0.75" fill="none"/>
<text x="79.50" y="121.50" font-size="10.50px">Δ</text>
<text x="87.13" y="121.50" font-size="10.50px" font-style="italic">x</text>
<path d="M96.90 117.30 H102.70 M96.90 119.24 H102.70" stroke="#000" stroke-width="0.65" fill="none"/>
<text x="105.25" y="121.50" font-size="10.50px">6.</text>
<text x="68.42" y="140.50" font-size="10.50px" font-style="italic">m</text>
<text x="76.36" y="140.50" font-size="10.50px" font-style="italic">v</text>
<text x="80.97" y="136.50" font-size="7.50px">2</text>
<text x="81.01" y="142.70" font-size="7.50px">0</text>
<path d="M85.90 142.07 L89.70 133.15" stroke="#000" stroke-width="0.75" fill="none"/>
<text x="90.24" y="140.50" font-size="10.50px">(</text>
<text x="93.14" y="140.50" font-size="10.50px">2</text>
<text x="98.95" y="140.50" font-size="10.50px" font-style="italic">ω</text>
<text x="106.85" y="142.40" font-size="7.50px" font-style="italic">q</text>
<text x="110.52" y="140.50" font-size="10.50px" font-style="italic">ħ</text>
<text x="115.66" y="140.50" font-size="10.50px">)</text>
<path d="M122.8 138.60 H128.8 M122.8 136.30 C123.8 134.90 125 134.90 125.8 135.90 C126.6 136.90 127.8 136.90 128.8 135.50" stroke="#000" stroke-width="0.75" fill="none"/>
<text x="132.34" y="140.50" font-size="10.50px">2800.</text>
</g>
</svg>
</body></html>
